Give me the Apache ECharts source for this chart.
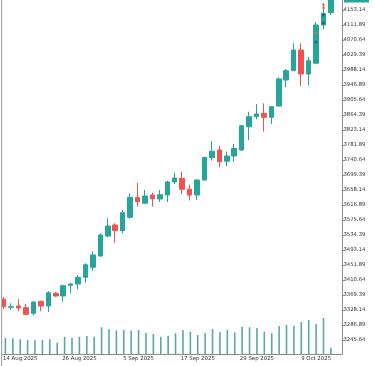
<!DOCTYPE html>
<html>
<head>
<meta charset="utf-8">
<script src="https://cdn.jsdelivr.net/npm/echarts@6/dist/echarts.min.js"></script>
<style>
html,body{margin:0;padding:0;background:#fff;}
#chart{width:375px;height:366px;}
</style>
</head>
<body>
<div id="chart"></div>
<script>
var dates = ['12 Aug 2025','13 Aug 2025','14 Aug 2025','15 Aug 2025','18 Aug 2025','19 Aug 2025','20 Aug 2025','21 Aug 2025','22 Aug 2025','25 Aug 2025','26 Aug 2025','27 Aug 2025','28 Aug 2025','29 Aug 2025',
'1 Sep 2025','2 Sep 2025','3 Sep 2025','4 Sep 2025','5 Sep 2025','8 Sep 2025','9 Sep 2025','10 Sep 2025','11 Sep 2025','12 Sep 2025','15 Sep 2025','16 Sep 2025','17 Sep 2025','18 Sep 2025','19 Sep 2025','22 Sep 2025','23 Sep 2025','24 Sep 2025','25 Sep 2025','26 Sep 2025','29 Sep 2025','30 Sep 2025',
'1 Oct 2025','2 Oct 2025','3 Oct 2025','6 Oct 2025','7 Oct 2025','8 Oct 2025','9 Oct 2025','10 Oct 2025','13 Oct 2025','14 Oct 2025'];

var openP  = [3357.6,3335.6,3339.1,3334.5,3319.1,3352.1,3339.1,3374.1,3366.6,3396.0,3399.6,3418.1,3445.6,3476.6,3531.6,3561.9,3546.8,3583.1,3637.0,3621.8,3644.4,3633.4,3644.4,3680.1,3690.3,3660.1,3644.4,3685.6,3747.0,3768.1,3737.3,3751.6,3768.1,3832.2,3859.7,3869.1,3858.1,3889.1,3960.6,3986.2,4043.1,3977.1,4006.6,4111.9,4145.7,null];
var closeP = [3337.2,3337.2,3333.6,3316.3,3350.1,3339.1,3375.7,3366.6,3394.9,3399.6,3418.1,3452.7,3479.4,3534.4,3559.1,3546.8,3595.7,3638.1,3626.5,3641.6,3633.9,3645.2,3680.1,3691.1,3660.1,3644.4,3685.6,3748.1,3764.6,3736.0,3751.6,3772.3,3834.9,3859.7,3867.1,3858.1,3887.2,3963.4,3986.2,4043.1,3977.1,4013.7,4111.9,4144.1,4213.6,null];
var lowP   = [3330.9,3328.1,3324.6,3313.6,3313.6,3324.6,3322.6,3364.7,3351.0,3374.1,3385.1,3403.2,3436.2,3474.7,3528.1,3511.6,3539.1,3579.2,3612.8,3619.6,3612.2,3625.1,3625.1,3674.6,3646.3,3629.3,3630.6,3684.3,3738.7,3720.6,3723.0,3736.0,3765.4,3795.6,3852.6,3818.5,3839.6,3887.8,3940.6,3986.2,3944.1,3945.5,4006.6,4100.1,4139.4,null];
var highP  = [3363.9,3346.6,3357.6,3344.6,3352.1,3353.7,3379.6,3377.6,3397.7,3401.6,3423.6,3456.6,3489.6,3539.1,3580.3,3566.6,3603.1,3649.1,3677.4,3658.1,3650.7,3658.1,3683.7,3705.7,3708.5,3672.7,3687.6,3748.9,3792.9,3779.9,3763.5,3784.6,3836.9,3873.5,3894.6,3896.6,3889.1,3968.1,3990.9,4061.6,4061.6,4023.9,4120.1,4172.4,4235.6,null];

var volume = [160,157,147,140,140,140,147,113,173,163,173,180,173,267,247,233,240,233,240,213,200,173,183,207,240,223,190,210,250,220,240,217,273,267,260,223,207,280,290,283,320,340,300,360,63,null];

var priceTicks = ['4153.14','4111.89','4070.64','4029.39','3988.14','3946.89','3905.64','3864.39','3823.14','3781.89','3740.64','3699.39','3658.14','3616.89','3575.64','3534.39','3493.14','3451.89','3410.64','3369.39','3328.14','3286.89','3245.64'];

var orangeMarks = [['9 Oct 2025',4089.9],['10 Oct 2025',4166.9],['10 Oct 2025',4158.6]];
var blueMarks   = [['9 Oct 2025',4065.1],['10 Oct 2025',4139.4],['10 Oct 2025',4117.4]];

var UP = '#26a69a', DOWN = '#ef5350';
var FONT = 'DejaVu Sans';

var candleData = dates.map(function (d, i) {
  if (openP[i] == null) return '-';
  return [openP[i], closeP[i], lowP[i], highP[i]];
});
var tickVals = priceTicks.map(Number);

var chart = echarts.init(document.getElementById('chart'), null, {renderer: 'canvas'});
chart.setOption({
  animation: false,
  backgroundColor: '#ffffff',
  grid: [
    {left: -3.25, right: 33, top: 0, bottom: 12},
    {left: -3.25, right: 33, height: 100, bottom: 12}
  ],
  xAxis: [
    {type: 'category', gridIndex: 0, data: dates, boundaryGap: true,
     axisLine: {show: false}, axisTick: {show: false}, axisLabel: {show: false}, splitLine: {show: false}},
    {type: 'category', gridIndex: 1, data: dates, boundaryGap: true,
     axisLine: {show: true, lineStyle: {color: '#8c8c8c', width: 1}},
     axisTick: {show: false},
     axisLabel: {show: true, color: '#333', fontFamily: FONT, fontSize: 5.4, margin: 2,
       interval: function (i) { return i % 8 === 2; }},
     splitLine: {show: false}}
  ],
  yAxis: [
    {type: 'value', gridIndex: 0, position: 'right', min: 3207.14, max: 4180.64, scale: true,
     axisLine: {show: true, lineStyle: {color: '#8c8c8c', width: 1}},
     axisTick: {show: true, length: 2.5, inside: false, customValues: tickVals, lineStyle: {color: '#8c8c8c'}},
     axisLabel: {show: true, color: '#333', fontFamily: FONT, fontSize: 5.3, margin: 1.5,
       customValues: tickVals, formatter: function (v) { return v.toFixed(2); }},
     splitLine: {show: false}},
    {type: 'value', gridIndex: 1, min: 0, max: 1000, show: false, splitLine: {show: false}}
  ],
  series: [
    {type: 'bar', xAxisIndex: 1, yAxisIndex: 1, data: volume, barWidth: 1.6, z: 1,
     itemStyle: {color: '#3e9990', opacity: 0.85}},
    {type: 'candlestick', xAxisIndex: 0, yAxisIndex: 0, data: candleData, barWidth: 5, z: 3,
     itemStyle: {color: UP, color0: DOWN, borderColor: UP, borderColor0: DOWN, borderWidth: 1}},
    {type: 'scatter', xAxisIndex: 0, yAxisIndex: 0, data: orangeMarks, symbol: 'diamond', symbolSize: 3.5, z: 5,
     itemStyle: {color: '#e8683a'}},
    {type: 'scatter', xAxisIndex: 0, yAxisIndex: 0, data: blueMarks, symbol: 'circle', symbolSize: 3, z: 5,
     itemStyle: {color: '#1f4f9e'}}
  ],
  graphic: [
    {type: 'rect', left: 1, top: 0, shape: {width: 1.2, height: 366}, style: {fill: '#a8a8a8'}, z: 10},
    {type: 'rect', left: 344, top: -5, shape: {width: 25, height: 7.5}, style: {fill: UP}, z: 10}
  ]
});
</script>
</body>
</html>
